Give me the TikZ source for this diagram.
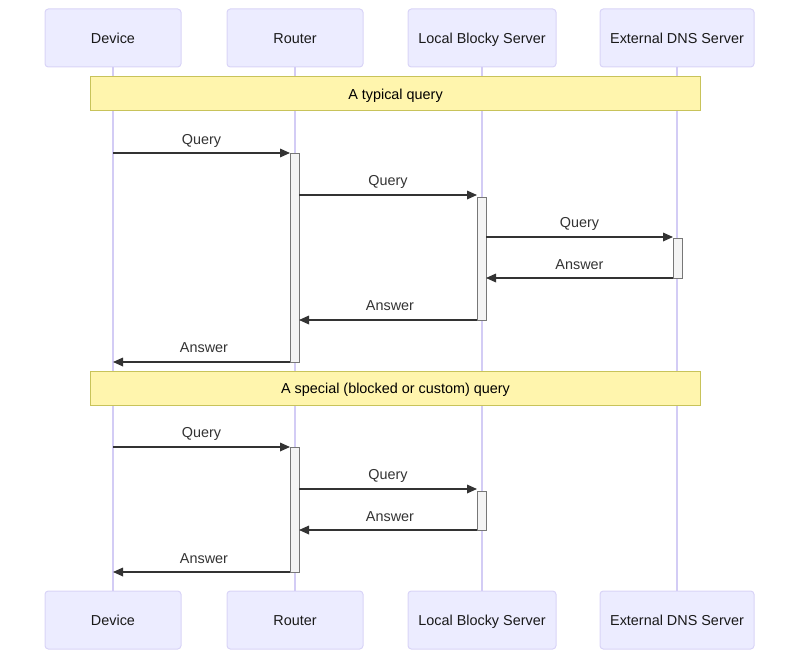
\documentclass[tikz,border=0pt]{standalone}
\usepackage{fontspec}
\setmainfont{Liberation Sans}
\usetikzlibrary{arrows.meta}
\definecolor{actorfill}{HTML}{ECECFF}
\definecolor{actorline}{HTML}{D9D4F7}
\definecolor{lifecol}{HTML}{D3CCF5}
\definecolor{notefill}{HTML}{FFF5AD}
\definecolor{noteline}{HTML}{C8C35A}
\definecolor{actfill}{HTML}{F4F4F4}
\definecolor{actline}{HTML}{777777}
\definecolor{msgcol}{HTML}{333333}
\tikzset{
  txt/.style={font=\fontsize{10.8pt}{13pt}\selectfont, text height=7.8pt, text depth=0pt},
  actor/.style={txt, draw=actorline, fill=actorfill, rounded corners=2.5pt, line width=0.75pt,
    minimum height=58*0.75pt, inner sep=0pt, text=black!90},
  lifeline/.style={draw=lifecol, line width=1pt},
  notebox/.style={txt, draw=noteline, fill=notefill, line width=0.75pt, minimum width=610*0.75pt,
    minimum height=34*0.75pt, inner sep=0pt, text=black},
  actbox/.style={draw=actline, fill=actfill, line width=0.75pt},
  msg/.style={draw=msgcol, line width=0.9pt, -{Triangle[length=7.5pt,width=6.5pt]}},
  lbl/.style={txt, text=msgcol, inner sep=0pt}
}
\begin{document}
\begin{tikzpicture}[x=0.75pt,y=-0.75pt]
\useasboundingbox (0,0) rectangle (800,660);
% actors top
\node[actor, minimum width=136*0.75pt] (devT) at (113,38) {Device};
\node[actor, minimum width=136*0.75pt] (rouT) at (295,38) {Router};
\node[actor, minimum width=148*0.75pt] (locT) at (482,38) {Local Blocky Server};
\node[actor, minimum width=154*0.75pt] (extT) at (677,38) {External DNS Server};
% actors bottom
\node[actor, minimum width=136*0.75pt] (devB) at (113,620) {Device};
\node[actor, minimum width=136*0.75pt] (rouB) at (295,620) {Router};
\node[actor, minimum width=148*0.75pt] (locB) at (482,620) {Local Blocky Server};
\node[actor, minimum width=154*0.75pt] (extB) at (677,620) {External DNS Server};
% lifelines
\draw[lifeline] (devT.south) -- (devB.north);
\draw[lifeline] (rouT.south) -- (rouB.north);
\draw[lifeline] (locT.south) -- (locB.north);
\draw[lifeline] (extT.south) -- (extB.north);
% notes
\node[notebox] (note1) at (395.5,94) {A typical query};
\node[notebox] (note2) at (395.5,388) {A special (blocked or custom) query};
% activations
\draw[actbox] (290,153) rectangle (299,362);
\draw[actbox] (477,197) rectangle (486,320);
\draw[actbox] (673,238) rectangle (682,278);
\draw[actbox] (290,447) rectangle (299,572);
\draw[actbox] (477,491) rectangle (486,530);
% message end points
\coordinate (m1s) at (113,153); \coordinate (m1e) at (290,153);
\coordinate (m2s) at (299,195); \coordinate (m2e) at (477,195);
\coordinate (m3s) at (486,237); \coordinate (m3e) at (673,237);
\coordinate (m4s) at (673,278); \coordinate (m4e) at (486,278);
\coordinate (m5s) at (477,320); \coordinate (m5e) at (299,320);
\coordinate (m6s) at (290,362); \coordinate (m6e) at (113,362);
\coordinate (m7s) at (113,447); \coordinate (m7e) at (290,447);
\coordinate (m8s) at (299,489); \coordinate (m8e) at (477,489);
\coordinate (m9s) at (477,530); \coordinate (m9e) at (299,530);
\coordinate (m10s) at (290,572); \coordinate (m10e) at (113,572);
% messages
\draw[msg] (m1s) -- (m1e);
\draw[msg] (m2s) -- (m2e);
\draw[msg] (m3s) -- (m3e);
\draw[msg] (m4s) -- (m4e);
\draw[msg] (m5s) -- (m5e);
\draw[msg] (m6s) -- (m6e);
\draw[msg] (m7s) -- (m7e);
\draw[msg] (m8s) -- (m8e);
\draw[msg] (m9s) -- (m9e);
\draw[msg] (m10s) -- (m10e);
% labels
\node[lbl] (l1) at (201.5,139) {Query};
\node[lbl] (l2) at (388,180.5) {Query};
\node[lbl] (l3) at (579.5,222.5) {Query};
\node[lbl] (l4) at (579.5,264) {Answer};
\node[lbl] (l5) at (390,305.5) {Answer};
\node[lbl] (l6) at (204,347.5) {Answer};
\node[lbl] (l7) at (201.5,432.5) {Query};
\node[lbl] (l8) at (388,474.5) {Query};
\node[lbl] (l9) at (390,516) {Answer};
\node[lbl] (l10) at (204,558) {Answer};
\end{tikzpicture}
\end{document}
